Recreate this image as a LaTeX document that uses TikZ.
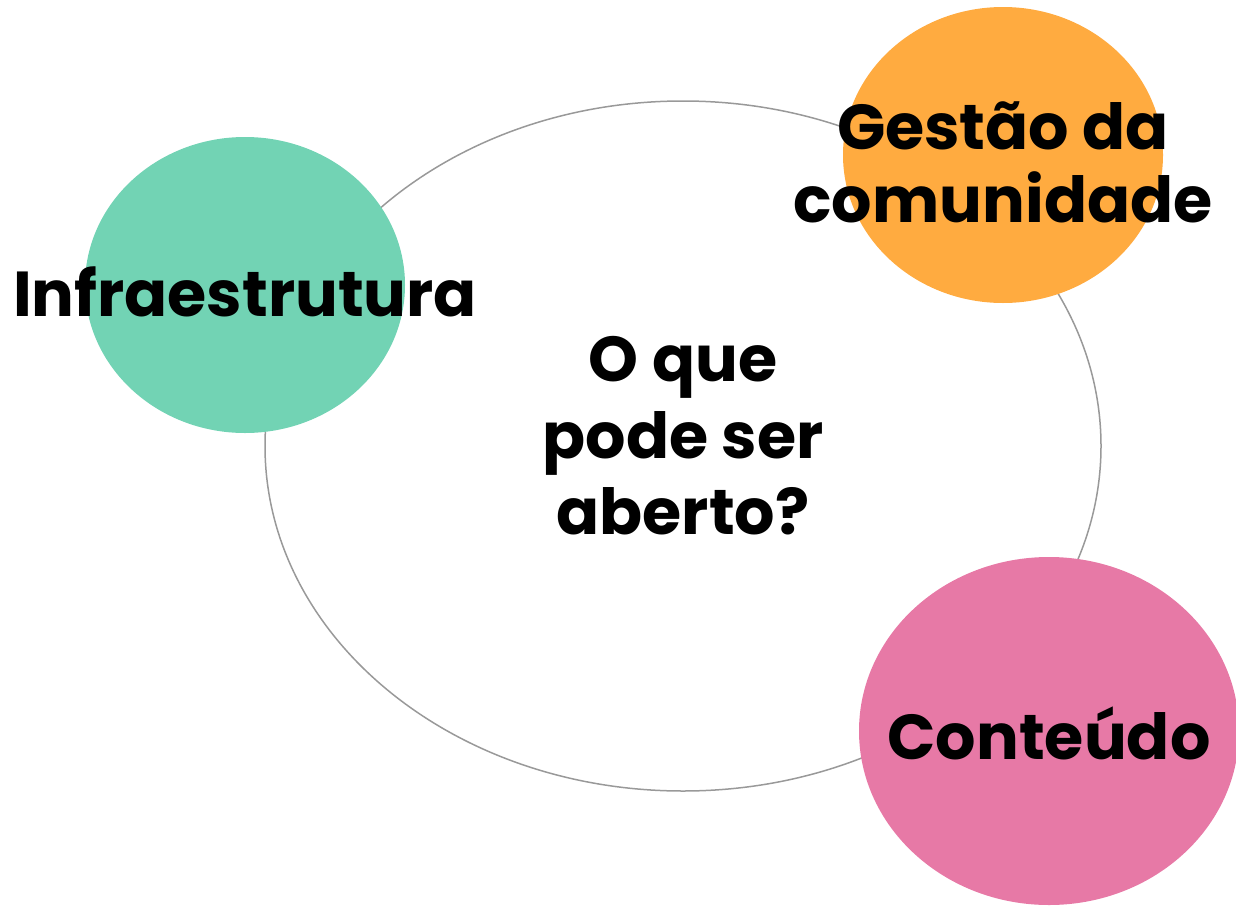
\documentclass[tikz,border=0pt]{standalone}
\usepackage{fontspec}
\setmainfont{Poppins}
\usepackage{tikz}
\usetikzlibrary{shapes.geometric}

\definecolor{infragreen}{HTML}{72D3B4}
\definecolor{gestaoorange}{HTML}{FFAB40}
\definecolor{conteudopink}{HTML}{E779A6}
\definecolor{ringgray}{HTML}{999999}

\tikzset{
	blob/.style={shape=ellipse,inner sep=0pt},
	bigtext/.style={font=\bfseries\fontsize{63.5}{73}\selectfont,align=center,text=black}
}

\begin{document}
\begin{tikzpicture}[x=1pt,y=-1pt]
	\useasboundingbox (0,0) rectangle (1236,905);
	\draw (683,446) node (ring) [blob,draw=ringgray,line width=1.5pt,minimum width=836pt,minimum height=690pt] {};

	\draw (245,285) node (infra) [blob,fill=infragreen,minimum width=320pt,minimum height=296pt] {};
	\draw (1003,155) node (gestao) [blob,fill=gestaoorange,minimum width=320pt,minimum height=296pt] {};
	\draw (1049,731) node (conteudo) [blob,fill=conteudopink,minimum width=380pt,minimum height=348pt] {};

	\node [bigtext,font=\bfseries\fontsize{63.5}{76.5}\selectfont] at ([yshift=10pt]ring.center) {O que\\pode ser\\aberto?};
	\node [bigtext] at ([yshift=-7pt]infra.center) {Infraestrutura};
	\node [bigtext] at ([yshift=-7pt]gestao.center) {Gestão da\\comunidade};
	\node [bigtext] at ([yshift=-2pt]conteudo.center) {Conteúdo};
\end{tikzpicture}
\end{document}
